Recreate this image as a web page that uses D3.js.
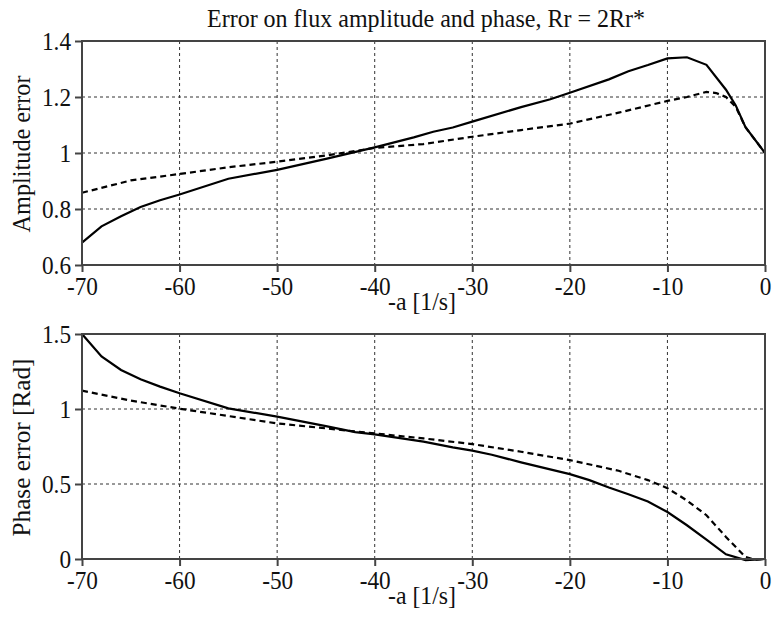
<!DOCTYPE html>
<html lang="en">
  <head>
    <meta charset="UTF-8" />
    <title>Error on flux amplitude and phase</title>
    <script src="https://d3js.org/d3.v7.min.js"></script>
    <style>
      body { margin: 0; background: #fff; }
      text { font-family: "Liberation Serif", "Tinos", "Times New Roman", "DejaVu Serif", serif; fill: #111; }
    </style>
  </head>
  <body>
    <div id="chart"></div>
    <script>
      // data
      var xTicks = [-70, -60, -50, -40, -30, -20, -10, 0];
      var ampTicks = [0.6, 0.8, 1, 1.2, 1.4];
      var phaseTicks = [0, 0.5, 1, 1.5];

      var ampSolidX = [-70, -68, -66, -64, -62, -60, -55, -50, -45, -40, -36, -34, -32, -30, -25, -22, -20, -16, -14, -12, -10, -8, -6, -4, -3, -2, 0];
      var ampSolidY = [0.68, 0.738, 0.774, 0.807, 0.831, 0.852, 0.908, 0.94, 0.979, 1.02, 1.056, 1.076, 1.091, 1.112, 1.164, 1.192, 1.215, 1.263, 1.292, 1.314, 1.338, 1.342, 1.315, 1.226, 1.17, 1.092, 1.0];

      var ampDashX = [-70, -65, -60, -55, -50, -45, -40, -35, -30, -25, -20, -15, -10, -8, -6, -5, -4, -3, -2, 0];
      var ampDashY = [0.858, 0.902, 0.925, 0.949, 0.969, 0.991, 1.018, 1.032, 1.058, 1.082, 1.105, 1.144, 1.186, 1.2, 1.218, 1.214, 1.2, 1.165, 1.092, 1.0];

      var phSolidX = [-70, -68, -66, -64, -62, -60, -55, -50, -45, -42, -40, -35, -32, -30, -28, -25, -20, -18, -16, -14, -12, -10, -8, -6, -4, -2, 0];
      var phSolidY = [1.5, 1.35, 1.26, 1.198, 1.149, 1.105, 1.004, 0.949, 0.886, 0.846, 0.831, 0.782, 0.744, 0.722, 0.695, 0.644, 0.566, 0.526, 0.477, 0.432, 0.383, 0.313, 0.225, 0.129, 0.031, -0.007, 0.0];

      var phDashX = [-70, -65, -60, -55, -50, -45, -40, -35, -30, -25, -20, -15, -12, -10, -8, -6, -4, -2, -1, 0];
      var phDashY = [1.122, 1.056, 1.002, 0.953, 0.904, 0.871, 0.837, 0.804, 0.766, 0.715, 0.659, 0.588, 0.526, 0.472, 0.39, 0.292, 0.147, 0.013, -0.005, 0.0];

      var W = 774, H = 617;
      var FS = 25; // tall, slightly narrow serif in the original
      var svg = d3.select("#chart").append("svg").attr("width", W).attr("height", H);

      var x = d3.scaleLinear().domain([-70, 0]).range([82, 765]);

      // squeeze factor so "-70" comes out ~31px wide like the original
      var probe = svg.append("text").style("font-size", FS + "px").text("-70");
      var squeeze = Math.min(1, 31 / probe.node().getComputedTextLength());
      probe.remove();

      function panel(top, bottom, yDomain, yTicks, yLabel, yLabelLen, series) {
        var y = d3.scaleLinear().domain(yDomain).range([bottom, top]);
        var g = svg.append("g");

        // grid
        g.selectAll(".gx")
          .data(xTicks.slice(1, -1))
          .enter()
          .append("line")
          .attr("x1", (d) => x(d))
          .attr("x2", (d) => x(d))
          .attr("y1", top)
          .attr("y2", bottom)
          .attr("stroke", "#333")
          .attr("stroke-width", 1)
          .attr("stroke-dasharray", "3,3");
        g.selectAll(".gy")
          .data(yTicks.slice(1, -1))
          .enter()
          .append("line")
          .attr("x1", x(-70))
          .attr("x2", x(0))
          .attr("y1", (d) => y(d))
          .attr("y2", (d) => y(d))
          .attr("stroke", "#333")
          .attr("stroke-width", 1)
          .attr("stroke-dasharray", "3,3");

        // series
        series.forEach(function (s) {
          var pts = s.xs.map((v, i) => [v, s.ys[i]]);
          g.append("path")
            .datum(pts)
            .attr("fill", "none")
            .attr("stroke", "#000")
            .attr("stroke-width", 2.2)
            .attr("stroke-dasharray", s.dash)
            .attr("d", d3.line().x((d) => x(d[0])).y((d) => y(d[1])));
        });

        // frame
        g.append("rect")
          .attr("x", x(-70))
          .attr("y", top)
          .attr("width", x(0) - x(-70))
          .attr("height", bottom - top)
          .attr("fill", "none")
          .attr("stroke", "#444")
          .attr("stroke-width", 2);

        // axes
        var ax = g.append("g")
          .attr("transform", "translate(0," + bottom + ")")
          .call(d3.axisBottom(x).tickValues(xTicks).tickSize(7).tickFormat((d) => (d < 0 ? "-" + Math.abs(d) : d)));
        ax.attr("font-family", null).attr("font-size", null);
        ax.select(".domain").remove();
        ax.selectAll("line").attr("stroke", "#444").attr("stroke-width", 2);
        ax.selectAll("text")
          .attr("dy", null)
          .attr("y", 0)
          .attr("transform", "translate(0,30) scale(" + squeeze + ",1)")
          .style("font-size", FS + "px")
          .attr("fill", "#111");

        var ay = g.append("g")
          .attr("transform", "translate(" + x(-70) + ",0)")
          .call(d3.axisLeft(y).tickValues(yTicks).tickSize(7).tickFormat((d) => String(d)));
        ay.attr("font-family", null).attr("font-size", null);
        ay.select(".domain").remove();
        ay.selectAll("line").attr("stroke", "#444").attr("stroke-width", 2);
        ay.selectAll("text")
          .attr("x", 0)
          .attr("dy", "0.34em")
          .attr("transform", "translate(-11,0) scale(" + squeeze + ",1)")
          .style("font-size", FS + "px")
          .attr("fill", "#111");

        g.append("text")
          .attr("x", 422)
          .attr("y", bottom + 45)
          .attr("text-anchor", "middle")
          .attr("textLength", 68)
          .attr("lengthAdjust", "spacingAndGlyphs")
          .style("font-size", FS + "px")
          .text("-a [1/s]");

        g.append("text")
          .attr("transform", "rotate(-90)")
          .attr("x", -(top + bottom) / 2 - 1)
          .attr("y", 30)
          .attr("text-anchor", "middle")
          .attr("textLength", yLabelLen)
          .attr("lengthAdjust", "spacingAndGlyphs")
          .style("font-size", FS + "px")
          .text(yLabel);
      }

      svg.append("text")
        .attr("x", 426)
        .attr("y", 27)
        .attr("text-anchor", "middle")
        .attr("textLength", 438)
        .attr("lengthAdjust", "spacingAndGlyphs")
        .style("font-size", FS + "px")
        .text("Error on flux amplitude and phase, Rr = 2Rr*");

      panel(41, 265, [0.6, 1.4], ampTicks, "Amplitude error", 157, [
        { xs: ampDashX, ys: ampDashY, dash: "6,4" },
        { xs: ampSolidX, ys: ampSolidY, dash: null },
      ]);
      panel(334, 559, [0, 1.5], phaseTicks, "Phase error [Rad]", 178, [
        { xs: phDashX, ys: phDashY, dash: "6,4" },
        { xs: phSolidX, ys: phSolidY, dash: null },
      ]);
    </script>
  </body>
</html>
